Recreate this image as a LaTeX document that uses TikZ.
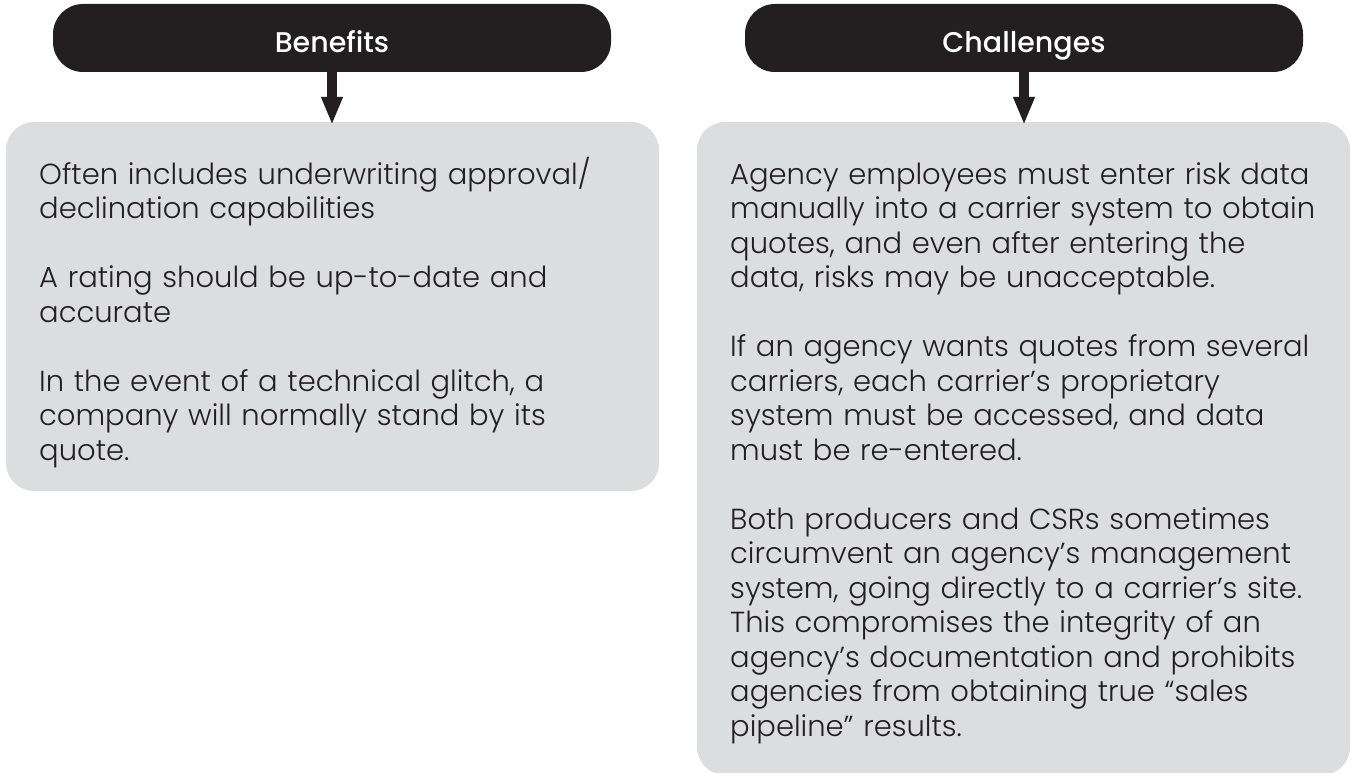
\documentclass[tikz,border=0pt]{standalone}
\usepackage{fontspec}
\usetikzlibrary{arrows.meta}
\newfontfamily\bodyfont{Poppins Light}
\newfontfamily\headfont{Poppins Medium}
\definecolor{ink}{HTML}{231F20}
\definecolor{panel}{HTML}{DCDDDF}
\tikzset{
  headbox/.style={fill=ink, rounded corners=30pt, minimum width=558pt, minimum height=68pt, inner sep=0pt,
    text height=29.4pt, text depth=0pt,
    text=white, font=\headfont\fontsize{28.5}{32}\selectfont},
  panelbox/.style={fill=panel, rounded corners=28pt, inner sep=0pt, minimum width=653pt},
  bodytext/.style={text=ink, text width=620pt, align=left, inner sep=0pt, anchor=base west,
    font=\bodyfont\fontsize{29}{34.5}\selectfont},
  downarrow/.style={draw=ink, line width=10pt, -{Triangle[width=20pt,length=28pt]}, fill=ink}
}
\begin{document}
\begin{tikzpicture}[x=1pt,y=-1pt]
\useasboundingbox (0,0) rectangle (1351,773);
% panels
\node[panelbox, minimum height=369pt] (lbox) at (332.5,306.5) {};
\node[panelbox, minimum height=653pt] (rbox) at (1023.5,448.5) {};
% headers
\node[headbox] (lhead) at (332,38) {Benefits};
\node[headbox] (rhead) at (1024,38) {Challenges};
% arrows
\draw[downarrow] (lhead.south) -- ([yshift=-3pt]lhead.south |- lbox.north);
\draw[downarrow] (rhead.south) -- ([yshift=-3pt]rhead.south |- rbox.north);
% texts
\node[bodytext] (ltext) at (39,184) {Often includes underwriting approval/\\
declination capabilities\\[34.5pt]
A rating should be up-to-date and\\
accurate\\[34.5pt]
In the event of a technical glitch, a\\
company will normally stand by its\\
quote.};
\node[bodytext] (rtext) at (730,184) {Agency employees must enter risk data\\
manually into a carrier system to obtain\\
quotes, and even after entering the\\
data, risks may be unacceptable.\\[34.5pt]
If an agency wants quotes from several\\
carriers, each carrier’s proprietary\\
system must be accessed, and data\\
must be re-entered.\\[34.5pt]
Both producers and CSRs sometimes\\
circumvent an agency’s management\\
system, going directly to a carrier’s site.\\
This compromises the integrity of an\\
agency’s documentation and prohibits\\
agencies from obtaining true “sales\\
pipeline” results.};
\end{tikzpicture}
\end{document}
